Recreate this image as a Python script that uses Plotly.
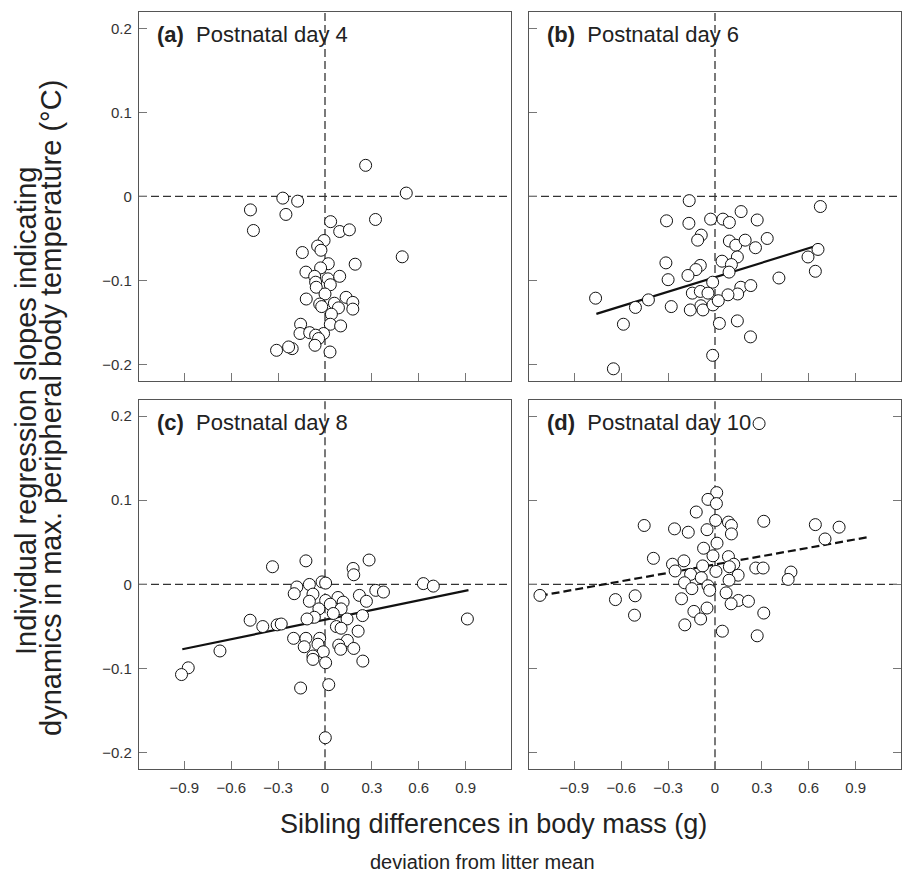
import plotly.graph_objects as go

# ---------------- data ----------------
a_x = [0.26, 0.52, -0.27, -0.175, -0.477, -0.25, -0.458, 0.036, 0.323, 0.094, 0.156, -0.006,
       -0.047, -0.026, -0.145, 0.494, 0.021, 0.193, -0.028, -0.122, -0.066, 0.019, 0.094, -0.06,
       0.034, -0.056, 0.0, -0.12, 0.135, 0.178, -0.034, 0.06, -0.021, 0.086, 0.178, 0.041,
       0.034, 0.10, -0.156, -0.009, -0.16, -0.098, -0.06, -0.041, -0.064, -0.21, -0.233, -0.31, 0.032]
a_y = [0.037, 0.004, -0.002, -0.0056, -0.016, -0.0214, -0.0405, -0.030, -0.0274, -0.0417, -0.0397, -0.0524,
       -0.059, -0.064, -0.0667, -0.0718, -0.080, -0.0806, -0.085, -0.090, -0.095, -0.098, -0.095, -0.102,
       -0.105, -0.108, -0.116, -0.122, -0.120, -0.126, -0.128, -0.127, -0.131, -0.1325, -0.134, -0.140,
       -0.152, -0.154, -0.152, -0.163, -0.163, -0.162, -0.165, -0.169, -0.177, -0.181, -0.179, -0.183, -0.185]

b_x = [-0.165, 0.674, 0.167, -0.31, -0.167, -0.028, 0.051, 0.092, 0.27, -0.088, -0.111, 0.092,
       0.133, 0.193, 0.334, 0.259, 0.659, 0.595, 0.143, 0.045, 0.105, -0.314, -0.094, -0.122,
       0.09, -0.173, 0.642, 0.409, -0.30, -0.015, 0.165, 0.229, -0.145, -0.094, -0.045, 0.145,
       0.083, -0.764, -0.426, -0.509, -0.28, -0.158, -0.09, -0.077, -0.013, 0.021, -0.586, 0.028,
       0.143, 0.227, -0.015, -0.65]
b_y = [-0.005, -0.012, -0.018, -0.029, -0.032, -0.027, -0.027, -0.031, -0.028, -0.046, -0.052, -0.053,
       -0.058, -0.052, -0.050, -0.061, -0.063, -0.072, -0.072, -0.077, -0.081, -0.079, -0.082, -0.087,
       -0.090, -0.094, -0.089, -0.097, -0.099, -0.102, -0.108, -0.106, -0.115, -0.113, -0.115, -0.116,
       -0.117, -0.121, -0.123, -0.132, -0.131, -0.135, -0.130, -0.135, -0.129, -0.124, -0.152, -0.151,
       -0.148, -0.167, -0.189, -0.205]
b_fit_x = [-0.759, 0.67]
b_fit_y = [-0.1397, -0.0575]

c_x = [-0.122, 0.282, -0.336, 0.18, 0.184, 0.629, 0.693, -0.019, 0.004, -0.18, -0.10, -0.197,
       -0.077, 0.325, 0.374, 0.22, 0.265, 0.083, 0.004, -0.10, 0.116, 0.034, -0.039, 0.103,
       0.053, -0.068, -0.115, 0.141, 0.24, 0.911, -0.479, -0.398, -0.306, -0.28, 0.073, 0.103,
       0.212, -0.201, -0.122, -0.034, 0.143, 0.088, -0.133, -0.045, 0.10, 0.184, -0.011, -0.672,
       -0.077, -0.077, 0.242, 0.004, -0.875, -0.918, -0.156, 0.024, 0.002]
c_y = [0.028, 0.029, 0.021, 0.019, 0.0115, 0.001, -0.002, 0.003, 0.0016, -0.003, 0.0, -0.011,
       -0.0115, -0.007, -0.009, -0.013, -0.020, -0.0155, -0.019, -0.020, -0.021, -0.0235, -0.029, -0.029,
       -0.0345, -0.039, -0.041, -0.041, -0.037, -0.041, -0.0425, -0.050, -0.048, -0.047, -0.050, -0.052,
       -0.0555, -0.064, -0.064, -0.064, -0.0665, -0.072, -0.074, -0.071, -0.077, -0.076, -0.080, -0.079,
       -0.085, -0.089, -0.091, -0.093, -0.099, -0.107, -0.123, -0.119, -0.182]
c_fit_x = [-0.913, 0.918]
c_fit_y = [-0.077, -0.0068]

d_x = [0.282, 0.011, -0.045, 0.009, -0.12, 0.312, 0.004, 0.086, 0.105, -0.453, 0.642, 0.794,
       -0.259, -0.171, -0.051, 0.105, 0.704, 0.013, -0.073, -0.013, -0.394, 0.086, -0.199, -0.272,
       0.12, -0.079, 0.092, -0.255, 0.006, 0.261, 0.308, 0.486, -0.156, -0.088, 0.148, 0.09,
       0.468, -0.195, -0.045, -0.148, -0.034, -1.12, -0.511, 0.071, -0.637, -0.214, 0.15, 0.214,
       0.103, -0.051, -0.135, 0.312, -0.515, -0.092, -0.193, 0.047, 0.27]
d_y = [0.191, 0.109, 0.101, 0.096, 0.086, 0.075, 0.076, 0.074, 0.070, 0.070, 0.071, 0.068,
       0.066, 0.062, 0.065, 0.060, 0.054, 0.049, 0.043, 0.034, 0.031, 0.033, 0.028, 0.024,
       0.024, 0.022, 0.021, 0.016, 0.0155, 0.0195, 0.0195, 0.0147, 0.012, 0.008, 0.011, 0.005,
       0.006, 0.002, -0.0016, -0.005, -0.007, -0.013, -0.0135, -0.010, -0.018, -0.017, -0.019, -0.020,
       -0.023, -0.028, -0.032, -0.034, -0.0365, -0.041, -0.048, -0.0555, -0.061]
d_fit_x = [-1.121, 0.975]
d_fit_y = [-0.0135, 0.056]

x_tickvals = [-0.9, -0.6, -0.3, 0, 0.3, 0.6, 0.9]
x_ticktext = ["\u22120.9", "\u22120.6", "\u22120.3", "0", "0.3", "0.6", "0.9"]
y_tickvals = [-0.2, -0.1, 0, 0.1, 0.2]
y_ticktext = ["\u22120.2", "\u22120.1", "0", "0.1", "0.2"]

panel_labels = ["(a)", "(b)", "(c)", "(d)"]
panel_titles = ["Postnatal day 4", "Postnatal day 6", "Postnatal day 8", "Postnatal day 10"]
y_title_1 = "Individual regression slopes indicating"
y_title_2 = "dynamics in max. peripheral body temperature (\u00b0C)"
x_title = "Sibling differences in body mass (g)"
x_subtitle = "deviation from litter mean"

# ---------------- figure ----------------
W, H = 904, 873
FONT = "Liberation Sans, Arial, Helvetica, sans-serif"
LINE_C = "#555555"
TICK_C = "#777777"
TXT_C = "#222222"

xdom = [[139 / W, 511 / W], [529 / W, 901 / W]]
ydom = [[1 - 381 / H, 1 - 12.3 / H], [1 - 769.3 / H, 1 - 400 / H]]

fig = go.Figure()

datasets = [(a_x, a_y, None, None, None),
            (b_x, b_y, b_fit_x, b_fit_y, "solid"),
            (c_x, c_y, c_fit_x, c_fit_y, "solid"),
            (d_x, d_y, d_fit_x, d_fit_y, "8px,4px")]

for i, (xs, ys, fx, fy, dash) in enumerate(datasets):
    n = i + 1
    xa = "x" if n == 1 else f"x{n}"
    ya = "y" if n == 1 else f"y{n}"
    if fx is not None:
        fig.add_trace(go.Scatter(x=fx, y=fy, mode="lines", xaxis=xa, yaxis=ya,
                                 line=dict(color="#111111", width=2.2, dash=dash),
                                 showlegend=False, hoverinfo="skip"))
    fig.add_trace(go.Scatter(x=xs, y=ys, mode="markers", xaxis=xa, yaxis=ya,
                             marker=dict(size=12, color="white", symbol="circle",
                                         line=dict(color="#111111", width=1)),
                             showlegend=False))

    col = i % 2
    row = i // 2
    xkey = "xaxis" if n == 1 else f"xaxis{n}"
    ykey = "yaxis" if n == 1 else f"yaxis{n}"
    fig.layout[xkey] = dict(
        domain=xdom[col], anchor=ya, range=[-1.19, 1.19],
        tickvals=x_tickvals, ticktext=x_ticktext, showticklabels=(row == 1),
        ticks="inside", ticklen=8, tickcolor=TICK_C, tickwidth=1,
        showline=True, linecolor=LINE_C, linewidth=1.3, mirror=True,
        showgrid=False, zeroline=False, ticklabelstandoff=5,
        tickfont=dict(family=FONT, size=15, color="#333333"),
    )
    fig.layout[ykey] = dict(
        domain=ydom[row], anchor=xa, range=[-0.2195, 0.219],
        tickvals=y_tickvals, ticktext=y_ticktext, showticklabels=(col == 0),
        ticks="inside", ticklen=8, tickcolor=TICK_C, tickwidth=1,
        showline=True, linecolor=LINE_C, linewidth=1.3,
        mirror=("allticks" if n == 4 else True),
        showgrid=False, zeroline=False, ticklabelstandoff=3,
        tickfont=dict(family=FONT, size=15, color="#333333"),
    )
    # zero reference lines
    fig.add_shape(type="line", xref=xa, yref=f"{ya} domain", x0=0, x1=0, y0=0, y1=1,
                  line=dict(color="#333333", width=1.3, dash="8px,4px"), layer="below")
    fig.add_shape(type="line", xref=f"{xa} domain", yref=ya, x0=0, x1=1, y0=0, y1=0,
                  line=dict(color="#333333", width=1.3, dash="8px,4px"), layer="below")
    # panel label
    fig.add_annotation(xref=f"{xa} domain", yref=f"{ya} domain", x=0.042, y=0.94,
                       xanchor="left", yanchor="middle", showarrow=False,
                       text=f"<b>{panel_labels[i]}</b>\u00a0 {panel_titles[i]}",
                       font=dict(family=FONT, size=22, color=TXT_C))

# axis titles
fig.add_annotation(xref="paper", yref="paper", x=26 / W, y=1 - 411 / H, textangle=-90,
                   xanchor="center", yanchor="middle", showarrow=False, text=y_title_1,
                   font=dict(family=FONT, size=29, color=TXT_C))
fig.add_annotation(xref="paper", yref="paper", x=51 / W, y=1 - 408 / H, textangle=-90,
                   xanchor="center", yanchor="middle", showarrow=False, text=y_title_2,
                   font=dict(family=FONT, size=29, color=TXT_C))
fig.add_annotation(xref="paper", yref="paper", x=493.5 / W, y=1 - 823.5 / H,
                   xanchor="center", yanchor="middle", showarrow=False, text=x_title,
                   font=dict(family=FONT, size=27, color=TXT_C))
fig.add_annotation(xref="paper", yref="paper", x=482 / W, y=1 - 862 / H,
                   xanchor="center", yanchor="middle", showarrow=False, text=x_subtitle,
                   font=dict(family=FONT, size=20, color=TXT_C))

fig.update_layout(width=W, height=H, margin=dict(l=0, r=0, t=0, b=0),
                  paper_bgcolor="white", plot_bgcolor="white", showlegend=False,
                  font=dict(family=FONT))

# remove the default page margin so the 904x873 figure fills the window exactly
fig.write_html("out.html", config={"displayModeBar": False},
               post_script="document.body.style.margin='0';document.body.style.overflow='hidden';")
